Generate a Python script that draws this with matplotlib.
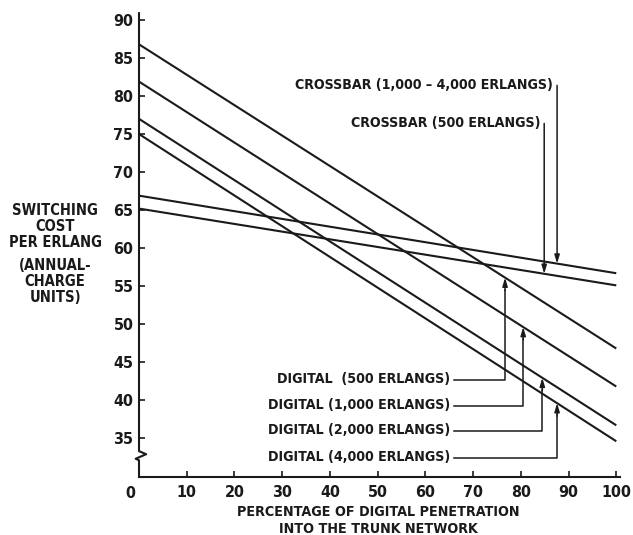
import numpy as np
import matplotlib.pyplot as plt
from matplotlib import font_manager

# percentage of digital penetration (end points of the straight lines)
pct = [0, 100]

digital_labels = ["DIGITAL  (500 ERLANGS)", "DIGITAL (1,000 ERLANGS)",
                  "DIGITAL (2,000 ERLANGS)", "DIGITAL (4,000 ERLANGS)"]
digital_start = [86.8, 81.9, 77.0, 75.0]
digital_end = [46.8, 41.8, 36.7, 34.6]

crossbar_labels = ["CROSSBAR (1,000 \u2013 4,000 ERLANGS)", "CROSSBAR (500 ERLANGS)"]
crossbar_start = [66.9, 65.2]
crossbar_end = [56.7, 55.1]

xticks = [10, 20, 30, 40, 50, 60, 70, 80, 90, 100]
yticks = [35, 40, 45, 50, 55, 60, 65, 70, 75, 80, 85, 90]

# use the condensed cut of DejaVu Sans when the system has it
cond = any(f.name == "DejaVu Sans" and f.stretch == "condensed"
           for f in font_manager.fontManager.ttflist)
stretch = "condensed" if cond else "normal"
k = 1.12 if cond else 1.0   # size boost to keep widths with the narrow cut

ink = "#1a1a1a"
lw = 1.5
font = dict(family="DejaVu Sans", weight="bold", stretch=stretch, color=ink)
fs = 9.1 * k

fig = plt.figure(figsize=(6.33, 5.35), dpi=100)
ax = fig.add_axes([0.2196, 0.1084, 0.760, 0.867])
ax.set_xlim(0, 100.8)
ax.set_ylim(29.9, 90.9)

def at(y0, y1, x):
    return y0 + (y1 - y0) * x / 100.0

for s, e in zip(digital_start, digital_end):
    ax.plot(pct, [s, e], color=ink, lw=lw, solid_capstyle="butt")
for s, e in zip(crossbar_start, crossbar_end):
    ax.plot(pct, [s, e], color=ink, lw=lw, solid_capstyle="butt")

# digital leaders: label -> right -> up to its line
lead_y = [42.6, 39.2, 35.9, 32.4]
lead_x = [76.7, 80.5, 84.5, 87.6]
for i, lab in enumerate(digital_labels):
    ax.text(65.2, lead_y[i] + 0.15, lab, ha="right", va="center", fontsize=fs, **font)
    yt = at(digital_start[i], digital_end[i], lead_x[i])
    ax.plot([66.0, lead_x[i], lead_x[i]], [lead_y[i], lead_y[i], yt - 1.6],
            color=ink, lw=1.1)
    ax.annotate("", xy=(lead_x[i], yt), xytext=(lead_x[i], yt - 1.7),
                arrowprops=dict(arrowstyle="-|>,head_length=0.5,head_width=0.15",
                                color=ink, lw=1.1, shrinkA=0, shrinkB=0))

# crossbar leaders: label -> down to its line
cb_text_x = [86.8, 84.1]
cb_text_y = [81.4, 76.4]
cb_arrow_x = [87.6, 84.9]
for i, lab in enumerate(crossbar_labels):
    ax.text(cb_text_x[i], cb_text_y[i], lab, ha="right", va="center",
            fontsize=fs, **font)
    yt = at(crossbar_start[i], crossbar_end[i], cb_arrow_x[i])
    ax.annotate("", xy=(cb_arrow_x[i], yt), xytext=(cb_arrow_x[i], cb_text_y[i]),
                arrowprops=dict(arrowstyle="-|>,head_length=0.5,head_width=0.15",
                                color=ink, lw=1.1, shrinkA=0, shrinkB=0))

# axes: left spine drawn by hand with a break
for sp in ["top", "right", "left"]:
    ax.spines[sp].set_visible(False)
ax.spines["bottom"].set_color(ink)
ax.spines["bottom"].set_linewidth(lw)
ax.plot([0, 0, 1.5, -0.7, 0, 0], [90.9, 33.3, 32.9, 32.3, 32.1, 29.9],
        color=ink, lw=lw, clip_on=False)

ax.set_xticks(xticks)
ax.set_yticks(yticks)
ax.tick_params(direction="in", length=4, width=1.2, color=ink, labelcolor=ink)
ax.tick_params(axis="x", pad=6)
ax.tick_params(axis="y", pad=4)
tfs = 10.5 * (1.1 if cond else 1.0)
for t in ax.get_xticklabels() + ax.get_yticklabels():
    t.set_fontweight("bold")
    t.set_fontstretch(stretch)
    t.set_fontsize(tfs)
ax.text(-1.9, 28.7, "0", ha="center", va="top", fontsize=tfs, **font)

# y title in two blocks, as lettered on the original
fig.text(0.087, 1 - 226.5 / 535, "SWITCHING\nCOST\nPER ERLANG",
         ha="center", va="center", fontsize=9.4 * k, linespacing=1.12, **font)
fig.text(0.087, 1 - 281.5 / 535, "(ANNUAL-\nCHARGE\nUNITS)",
         ha="center", va="center", fontsize=9.4 * k, linespacing=1.12, **font)
fig.text(0.597, 0.027, "PERCENTAGE OF DIGITAL PENETRATION\nINTO THE TRUNK NETWORK",
         ha="center", va="center", fontsize=9.2 * k, linespacing=1.35, **font)

fig.savefig("out.png", dpi=100, facecolor="white")
